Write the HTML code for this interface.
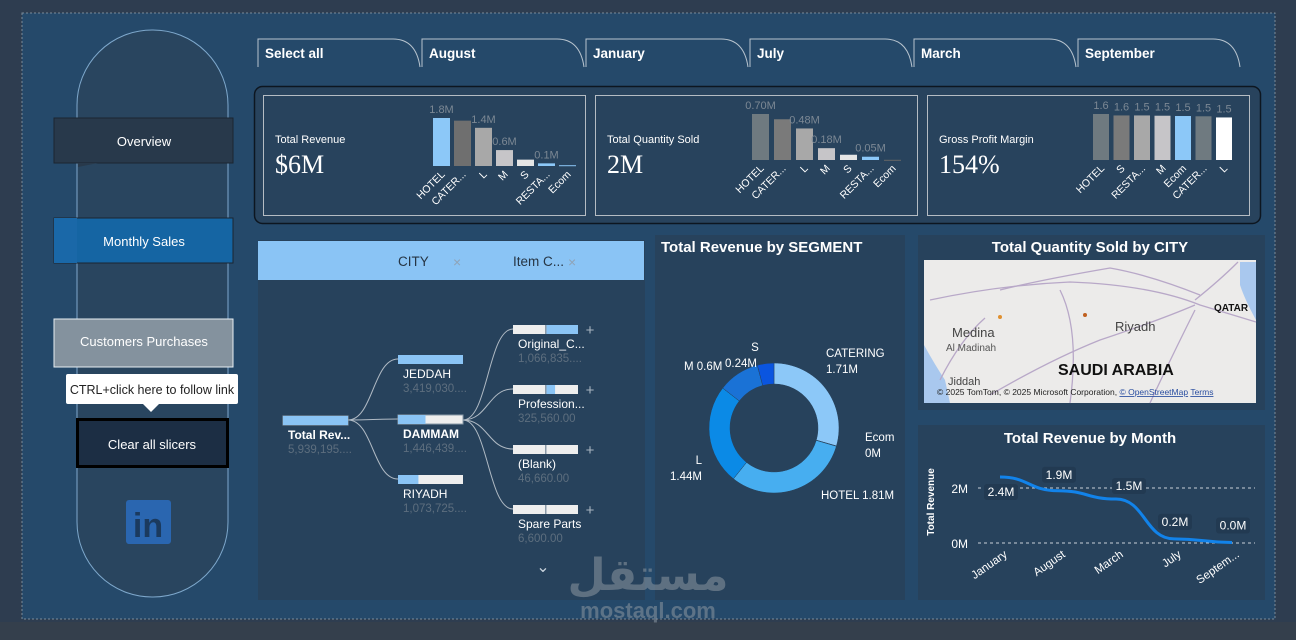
<!DOCTYPE html>
<html><head><meta charset="utf-8">
<style>
html,body{margin:0;padding:0;background:#2e3d50;width:1296px;height:640px;overflow:hidden}
svg{display:block}
text{font-family:"Liberation Sans","DejaVu Sans",sans-serif}
text.serif{font-family:"Liberation Serif",serif}
</style></head>
<body>
<svg id="s" width="1296" height="640" viewBox="0 0 1296 640" xmlns="http://www.w3.org/2000/svg">
<rect x="0" y="0" width="1296" height="640" fill="#2e3d50"/>
<rect x="22" y="13" width="1253" height="606" fill="#25496a" stroke="#7b8a99" stroke-dasharray="2,2"/>
<rect x="0" y="622" width="1296" height="18" fill="#343f4c"/>

<!-- nav -->
<rect x="77" y="30" width="151" height="567" rx="75" fill="#29455f" stroke="#7ea8cc" stroke-width="1"/>
<g>
<rect x="54" y="118" width="179" height="45" fill="#28394b" stroke="#1b2530"/>
<polygon points="78,163 98,163 78,167" fill="#28394b"/>
<text x="144" y="146" fill="#fff" font-size="13" text-anchor="middle">Overview</text></g>
<g>
<rect x="54" y="218" width="179" height="45" fill="#1565a3" stroke="#1b2530"/>
<rect x="54" y="218" width="23" height="45" fill="#1a68a8"/>
<text x="144" y="246" fill="#fff" font-size="13" text-anchor="middle">Monthly Sales</text></g>
<g>
<rect x="54" y="319" width="179" height="48" fill="#84929e" stroke="#e8eef3"/>
<text x="144" y="346" fill="#fff" font-size="13" text-anchor="middle">Customers Purchases</text></g>
<g>
<rect x="66" y="374" width="172" height="30" rx="2" fill="#fff"/>
<polygon points="143,404 159,404 151,412" fill="#fff"/>
<text x="152" y="394" fill="#222" font-size="12.5" text-anchor="middle">CTRL+click here to follow link</text></g>
<g>
<rect x="77.5" y="419.5" width="150" height="47" fill="#1c2e44" stroke="#000" stroke-width="3"/>
<text x="152" y="449" fill="#fff" font-size="13" text-anchor="middle">Clear all slicers</text></g>
<g>
<rect x="126" y="500" width="45" height="44" rx="3" fill="#2a66b0"/>
<text x="148" y="537" fill="#1b3a5e" font-size="34" font-weight="bold" text-anchor="middle">in</text></g>

<!-- slicer tabs -->
<g id="tabs"></g>

<!-- KPI container -->
<rect x="254.5" y="86.5" width="1006" height="137" rx="8" fill="#28435d" stroke="#0d1620" stroke-width="1.5"/>
<g id="kpis"></g>

<!-- decomposition tree -->
<g>
<rect x="258" y="240" width="387" height="360" fill="#27425c"/>
<rect x="258" y="241" width="386" height="39" fill="#8ac4f5"/>
<text x="398" y="266" fill="#263544" font-size="13.5">CITY</text>
<text x="453" y="267" fill="#8fa3b7" font-size="14">×</text>
<text x="513" y="266" fill="#263544" font-size="13.5">Item C...</text>
<text x="568" y="267" fill="#8fa3b7" font-size="14">×</text>
<g id="tree"></g>
<text x="543" y="572" fill="#c8d2dc" font-size="16" text-anchor="middle">⌄</text>
</g>

<!-- donut -->
<g>
<rect x="655" y="235" width="250" height="365" fill="#27425c"/>
<text x="661" y="252" fill="#fff" font-size="15" font-weight="bold">Total Revenue by SEGMENT</text>
<g id="donut"></g>
</g>

<!-- map -->
<g>
<rect x="918" y="235" width="347" height="175" fill="#27425c"/>
<text x="1090" y="252" fill="#fff" font-size="15" font-weight="bold" text-anchor="middle">Total Quantity Sold by CITY</text>
<rect x="924" y="260" width="332" height="143" fill="#ecebea"/>
<path d="M924,345 Q935,365 945,380 L950,403 L924,403Z" fill="#a9c8ee"/>
<path d="M1240,262 L1256,262 L1256,320 Q1245,300 1240,285Z" fill="#a9c8ee"/>
<g fill="none" stroke="#b8a8c8" stroke-width="1.3">
<path d="M930,300 Q1000,285 1070,282 Q1150,285 1200,305 L1256,322"/>
<path d="M1000,290 Q1040,280 1110,268 Q1150,275 1200,295"/>
<path d="M1195,300 Q1220,280 1238,262"/>
<path d="M990,395 Q1050,360 1100,340 Q1160,320 1195,305"/>
<path d="M940,380 Q960,340 985,318"/>
<path d="M1150,403 Q1170,360 1195,310"/>
<path d="M1060,290 Q1080,330 1070,403"/>
</g>
<circle cx="1085" cy="315" r="2" fill="#c06020"/><circle cx="1000" cy="317" r="2" fill="#e09030"/>
<text x="1115" y="331" fill="#444" font-size="13">Riyadh</text>
<text x="952" y="337" fill="#444" font-size="13">Medina</text>
<text x="946" y="351" fill="#555" font-size="10">Al Madinah</text>
<text x="1214" y="311" fill="#111" font-size="10" font-weight="bold">QATAR</text>
<text x="1058" y="375" fill="#111" font-size="16" font-weight="bold">SAUDI ARABIA</text>
<text x="948" y="385" fill="#444" font-size="11">Jiddah</text>
<text x="937" y="395" fill="#222" font-size="8.5">© 2025 TomTom, © 2025 Microsoft Corporation, <tspan fill="#2a4ea0" text-decoration="underline">© OpenStreetMap</tspan>  <tspan fill="#2a4ea0" text-decoration="underline">Terms</tspan></text>
</g>

<!-- line chart -->
<g>
<rect x="918" y="425" width="347" height="175" fill="#27425c"/>
<text x="1090" y="443" fill="#fff" font-size="15" font-weight="bold" text-anchor="middle">Total Revenue by Month</text>
<text transform="translate(934,502) rotate(-90)" fill="#fff" font-size="10" font-weight="bold" text-anchor="middle">Total Revenue</text>
<g id="line"></g>
</g>

<!-- watermark -->
<g opacity="0.55">
<text x="648" y="590" fill="#8c96a0" font-size="44" font-weight="bold" text-anchor="middle" style="font-family:'Noto Sans CJK SC','DejaVu Sans',sans-serif">مستقل</text>
<text x="648" y="618" fill="#8c96a0" font-size="22" font-weight="bold" text-anchor="middle">mostaql.com</text>
</g>
</svg>
<script>
const NS="http://www.w3.org/2000/svg";
function mk(p,t,a,txt){const e=document.createElementNS(NS,t);for(const k in a)e.setAttribute(k,a[k]);if(txt!=null)e.textContent=txt;p.appendChild(e);return e;}

// ---- slicer tabs
const monthTabs=["Select all","August","January","July","March","September"];
const tabs=document.getElementById('tabs');
monthTabs.forEach((m,i)=>{const x=258+i*164;
 const g=mk(tabs,'g',{});
 
 
 mk(g,'path',{d:`M${x},67 L${x},39 L${x+135},39 Q${x+158},39 ${x+162},67`,fill:'#25496a',stroke:'#b8c4cf','stroke-width':1});
 mk(g,'text',{x:x+7,y:58,fill:'#fff','font-size':13.5,'font-weight':'bold'},m);
});

// ---- KPI cards data
const kpiTitles=["Total Revenue","Total Quantity Sold","Gross Profit Margin"];
const kpiValues=["$6M","2M","154%"];
const kpi1Cats=["HOTEL","CATER...","L","M","S","RESTA...","Ecom"];
const kpi1Vals=[1.81,1.71,1.44,0.6,0.24,0.1,0.03];
const kpi1Labels=["1.8M","","1.4M","0.6M","","0.1M",""];
const kpi2Cats=["HOTEL","CATER...","L","M","S","RESTA...","Ecom"];
const kpi2Vals=[0.70,0.62,0.48,0.18,0.08,0.05,0.003];
const kpi2Labels=["0.70M","","0.48M","0.18M","","0.05M",""];
const kpi3Cats=["HOTEL","S","RESTA...","M","Ecom","CATER...","L"];
const kpi3Vals=[1.6,1.55,1.55,1.54,1.53,1.52,1.48];
const kpi3Labels=["1.6","1.6","1.5","1.5","1.5","1.5","1.5"];
const kpiColors=[["#8cc8f8","#6f6f6f","#a8a8a8","#c6c5c8","#e5e5e5","#8cc8f8","#8cc8f8"],
 ["#6f7a80","#7a7a7a","#a8a8a8","#c6c5c8","#e5e5e5","#8cc8f8","#666"],
 ["#6f7a80","#7a7a7a","#a8a8a8","#c6c5c8","#8cc8f8","#6f7a80","#ffffff"]];
const kpiDefs=[{c:kpi1Cats,v:kpi1Vals,l:kpi1Labels,x0:433,base:166,max:1.81,h:48,bw:17,step:21},
 {c:kpi2Cats,v:kpi2Vals,l:kpi2Labels,x0:752,base:160,max:0.70,h:46,bw:17,step:22},
 {c:kpi3Cats,v:kpi3Vals,l:kpi3Labels,x0:1093,base:160,max:1.6,h:46,bw:16,step:20.5}];
const kg=document.getElementById('kpis');
kpiDefs.forEach((d,ci)=>{const cx=263+ci*332;
 const g=mk(kg,'g',{});
 
 
 mk(g,'rect',{x:cx+.5,y:95.5,width:322,height:120,fill:'#28435d',stroke:'#b5bcc3'});
 mk(g,'text',{x:cx+12,y:143,fill:'#fff','font-size':11},kpiTitles[ci]);
 mk(g,'text',{x:cx+12,y:173,fill:'#fff','font-size':26,'class':'serif'},kpiValues[ci]);
 const y=v=>d.base-v/d.max*d.h;
 d.v.forEach((v,i)=>{const x=d.x0+i*d.step;
  const b=mk(g,'rect',{x:x,y:y(v),width:d.bw,height:Math.max(1,d.base-y(v)),fill:kpiColors[ci][i]});
  
  
  if(d.l[i])mk(g,'text',{x:x+d.bw/2,y:y(v)-5,fill:'#7c8894','font-size':11,'text-anchor':'middle'},d.l[i]);
  mk(g,'text',{transform:`translate(${x+d.bw/2+4},${d.base+9}) rotate(-45)`,fill:'#fff','font-size':10.5,'text-anchor':'end'},d.c[i]);
 });
});

// ---- decomposition tree
const treeCities=["JEDDAH","DAMMAM","RIYADH"];
const treeCityVals=[3419030,1446439,1073725];
const treeCityText=["3,419,030....","1,446,439....","1,073,725...."];
const treeItems=["Original_C...","Profession...","(Blank)","Spare Parts"];
const treeItemVals=[1066835,325560,46660,6600];
const treeItemText=["1,066,835....","325,560.00","46,660.00","6,600.00"];
const treeTotal=5939195;
const tg=document.getElementById('tree');
function node(x,y,frac,label,val,bold,selected){
 const g=mk(tg,'g',{});
 
 
 mk(g,'rect',{x:x,y:y,width:65,height:9,fill:'#eeeeee',stroke:selected?'#8a9aa8':'none'});
 mk(g,'rect',{x:x,y:y,width:65*frac,height:9,fill:'#8ac4f5'});
 mk(g,'text',{x:x+5,y:y+23,fill:'#fff','font-size':12,'font-weight':bold?'bold':'normal'},label);
 mk(g,'text',{x:x+5,y:y+37,fill:'#5d6e7e','font-size':11.5},val);
}
const link=(x1,y1,x2,y2)=>mk(tg,'path',{d:`M${x1},${y1} C${(x1+x2)/2},${y1} ${(x1+x2)/2},${y2} ${x2},${y2}`,fill:'none',stroke:'#b0bac4','stroke-width':1});
const maxCity=Math.max(...treeCityVals);
treeCities.forEach((c,i)=>link(348,420,398,359+i*60));
treeItems.forEach((c,i)=>link(463,420,513,329+i*60));
node(283,416,1,"Total Rev...","5,939,195....",true,true);
treeCities.forEach((c,i)=>node(398,355+i*60,treeCityVals[i]/maxCity,c,treeCityText[i],i==1,i==1));
treeItems.forEach((c,i)=>{
 const x=513,y=325+i*60;
 const g=mk(tg,'g',{});
 
 
 mk(g,'rect',{x:x,y:y,width:65,height:9,fill:'#eeeeee'});
 mk(g,'rect',{x:x+32,y:y,width:33*treeItemVals[i]/treeItemVals[0],height:9,fill:'#8ac4f5'});
 mk(g,'rect',{x:x+32,y:y,width:1.5,height:9,fill:'#8a9aa8'});
 mk(g,'text',{x:x+5,y:y+23,fill:'#fff','font-size':12},c);
 mk(g,'text',{x:x+5,y:y+37,fill:'#5d6e7e','font-size':11.5},treeItemText[i]);
 mk(g,'text',{x:590,y:y+10,fill:'#a8b4c0','font-size':15,'text-anchor':'middle'},"+");
});

// ---- donut
const segNames=["CATERING","Ecom","HOTEL","L","M","S"];
const segVals=[1.71,0.005,1.81,1.44,0.6,0.24];
const segLabels=["CATERING\n1.71M","Ecom\n0M","HOTEL 1.81M","L\n1.44M","M 0.6M","S\n0.24M"];
const segColors=["#8cc8f8","#4a6a88","#47aef0","#0b8ae6","#1a72d6","#0a55e0"];
const dg=document.getElementById('donut');
const cx=774,cy=428,R=65,r=44;
const tot=segVals.reduce((a,b)=>a+b,0);
let a0=-Math.PI/2;
segVals.forEach((v,i)=>{const a1=a0+v/tot*2*Math.PI;
 const P=(rad,a)=>[cx+rad*Math.cos(a),cy+rad*Math.sin(a)];
 const [x1,y1]=P(R,a0),[x2,y2]=P(R,a1),[x3,y3]=P(r,a1),[x4,y4]=P(r,a0);
 const lg=(a1-a0)>Math.PI?1:0;
 const s=mk(dg,'path',{d:`M${x1},${y1} A${R},${R} 0 ${lg} 1 ${x2},${y2} L${x3},${y3} A${r},${r} 0 ${lg} 0 ${x4},${y4}Z`,fill:segColors[i],stroke:'#27425c','stroke-width':0.5});
 
 
 a0=a1;
});
const dl=[[826,357,'start'],[865,441,'start'],[821,499,'start'],[702,464,'end'],[684,370,'start'],[755,351,'middle']];
segLabels.forEach((t,i)=>{const ls=t.split("\n");
 ls.forEach((l,j)=>{let x=dl[i][0],y=dl[i][1]+j*16;
  if(i==5&&j==1){x=741;y=367;}
  mk(dg,'text',{x:x,y:y,fill:'#fff','font-size':11.5,'text-anchor':i==5&&j==1?'middle':dl[i][2]},l);});
});

// ---- line chart
const months=["January","August","March","July","Septem..."];
const revM=[2.4,1.9,1.6,0.15,0.02];
const revLbl=["2.4M","1.9M","1.5M","0.2M","0.0M"];
const yTicks=[0,2];
const lg2=document.getElementById('line');
const X=i=>1000+i*58, Y=v=>543-v*27.5;
yTicks.forEach(t=>{mk(lg2,'line',{x1:978,x2:1255,y1:Y(t),y2:Y(t),stroke:'#c8d0d8','stroke-dasharray':'3,3','stroke-width':1});
 mk(lg2,'text',{x:968,y:Y(t)+5,fill:'#fff','font-size':12,'text-anchor':'end'},t+"M");});
let d=`M${X(0)},${Y(revM[0])}`;
for(let i=1;i<revM.length;i++){const xm=(X(i-1)+X(i))/2;d+=` C${xm},${Y(revM[i-1])} ${xm},${Y(revM[i])} ${X(i)},${Y(revM[i])}`;}
const ln=mk(lg2,'path',{d:d,fill:'none',stroke:'#1283ea','stroke-width':3});


const lblOff=[[0,18],[0,-13],[12,-10],[0,-14],[0,-14]];
revM.forEach((v,i)=>{
 const lx=X(i)+lblOff[i][0],ly=Y(v)+lblOff[i][1];
 mk(lg2,'rect',{x:lx-16,y:ly-11,width:34,height:16,rx:3,fill:'#223a52'});
 mk(lg2,'text',{x:lx+1,y:ly+1,fill:'#fff','font-size':12,'text-anchor':'middle'},revLbl[i]);
 mk(lg2,'text',{transform:`translate(${X(i)+8},${556}) rotate(-35)`,fill:'#fff','font-size':11.5,'text-anchor':'end'},months[i]);
});
</script>
</body></html>
